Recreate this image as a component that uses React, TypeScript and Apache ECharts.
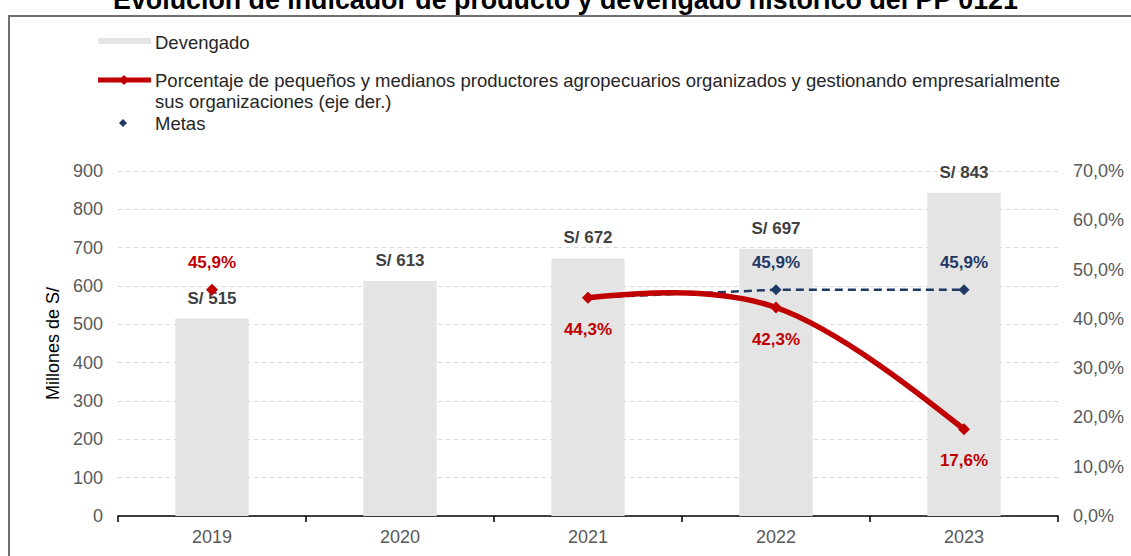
import React, { useEffect, useRef } from 'react';
import * as echarts from 'echarts';

const years: string[] = ['2019', '2020', '2021', '2022', '2023'];
const devengado: number[] = [515, 613, 672, 697, 843];
const porcentaje: (number | null)[] = [45.9, null, 44.3, 42.3, 17.6];
const metas: (number | null)[] = [null, null, 44.3, 45.9, 45.9];
const leftTicks = { min: 0, max: 900, interval: 100 };
const rightTicks = { min: 0, max: 70, interval: 10 };

const FONT = '"Liberation Sans", Arial, sans-serif';
const RED = '#c00000';
const NAVY = '#1f3864';
const BAR = '#e4e4e4';
const TICK = '#595959';
const RED_NAME =
  'Porcentaje de pequeños y medianos productores agropecuarios organizados y gestionando empresarialmente sus organizaciones (eje der.)';

const pct = (v: number) => v.toFixed(1).replace('.', ',') + '%';

export default function App() {
  const ref = useRef<HTMLDivElement>(null);
  useEffect(() => {
    if (!ref.current) return;
    const chart = echarts.init(ref.current, undefined, { renderer: 'svg' });
    const firstIdx = porcentaje.findIndex((v) => v !== null);
    const ok = (j: number) => j >= 0 && j < porcentaje.length && porcentaje[j] !== null;

    // Excel-like smoothed segment between consecutive points (Catmull-Rom bezier)
    const renderSpline = (params: any, api: any) => {
      const b = params.dataIndex;
      const a = b - 1;
      if (!ok(a) || !ok(b)) return null;
      const P = (j: number) => api.coord([j, porcentaje[j]]);
      const pa = P(a);
      const pb = P(b);
      let c1: number[] | null = null;
      let c2: number[] | null = null;
      if (ok(a - 1)) {
        const p0 = P(a - 1);
        c1 = [pa[0] + (pb[0] - p0[0]) / 6, pa[1] + (pb[1] - p0[1]) / 6];
      }
      if (ok(b + 1)) {
        const p3 = P(b + 1);
        c2 = [pb[0] - (p3[0] - pa[0]) / 6, pb[1] - (p3[1] - pa[1]) / 6];
      }
      if (!c1 && !c2) {
        c1 = [pa[0] + (pb[0] - pa[0]) / 3, pa[1] + (pb[1] - pa[1]) / 3];
        c2 = [pb[0] - (pb[0] - pa[0]) / 3, pb[1] - (pb[1] - pa[1]) / 3];
      } else if (!c1 && c2) {
        c1 = [pa[0] + (c2[0] - pa[0]) / 3, pa[1] + (c2[1] - pa[1]) / 3];
      } else if (!c2 && c1) {
        c2 = [pb[0] + (c1[0] - pb[0]) / 3, pb[1] + (c1[1] - pb[1]) / 3];
      }
      return {
        type: 'bezierCurve',
        shape: {
          x1: pa[0],
          y1: pa[1],
          cpx1: c1![0],
          cpy1: c1![1],
          cpx2: c2![0],
          cpy2: c2![1],
          x2: pb[0],
          y2: pb[1],
        },
        style: { stroke: RED, lineWidth: 5.5, fill: 'none', lineCap: 'round' },
      };
    };

    chart.setOption({
      animation: false,
      backgroundColor: '#ffffff',
      title: {
        text: 'Evolución de indicador de producto y devengado histórico del PP 0121',
        left: 'center',
        top: -19,
        textStyle: { fontFamily: FONT, fontSize: 26.8, fontWeight: 'bold', color: '#000' },
      },
      legend: { show: false },
      grid: { left: 118, right: 73, top: 171, bottom: 40 },
      xAxis: {
        type: 'category',
        data: years,
        axisLine: { lineStyle: { color: '#000', width: 1.5 } },
        axisTick: { show: true, length: 6, inside: false, lineStyle: { color: '#000', width: 1.5 } },
        axisLabel: { color: TICK, fontFamily: FONT, fontSize: 18, margin: 12 },
      },
      yAxis: [
        {
          type: 'value',
          ...leftTicks,
          name: 'Millones de S/',
          nameLocation: 'middle',
          nameGap: 53,
          nameRotate: 90,
          nameTextStyle: { fontFamily: FONT, fontSize: 18, color: '#000' },
          axisLine: { show: false },
          axisTick: { show: false },
          axisLabel: { color: TICK, fontFamily: FONT, fontSize: 18, margin: 15 },
          splitLine: { show: true, lineStyle: { color: '#d9d9d9', type: [4, 4], width: 1 } },
        },
        {
          type: 'value',
          ...rightTicks,
          axisLine: { show: false },
          axisTick: { show: false },
          axisLabel: { color: TICK, fontFamily: FONT, fontSize: 18, margin: 15, formatter: (v: number) => pct(v) },
          splitLine: { show: false },
        },
      ],
      series: [
        {
          name: 'Devengado',
          type: 'bar',
          data: devengado,
          barWidth: '39%',
          itemStyle: { color: BAR },
          label: {
            show: true,
            position: 'top',
            distance: 12,
            formatter: (p: any) => 'S/ ' + p.value,
            fontFamily: FONT,
            fontSize: 17,
            fontWeight: 'bold',
            color: '#404040',
          },
          z: 1,
        },
        {
          name: 'Metas',
          type: 'line',
          yAxisIndex: 1,
          data: metas,
          symbol: 'diamond',
          symbolSize: 11,
          lineStyle: { color: NAVY, width: 2.5, type: [8, 5] },
          itemStyle: { color: NAVY },
          label: {
            show: true,
            position: 'top',
            distance: 13,
            formatter: (p: any) => (porcentaje[p.dataIndex] === p.value ? '' : pct(p.value)),
            fontFamily: FONT,
            fontSize: 17,
            fontWeight: 'bold',
            color: NAVY,
          },
          z: 3,
        },
        {
          name: RED_NAME,
          type: 'custom',
          yAxisIndex: 1,
          data: porcentaje.map((v, i) => [i, v]),
          encode: { x: 0, y: 1 },
          renderItem: renderSpline,
          silent: true,
          z: 4,
        },
        {
          name: RED_NAME,
          type: 'line',
          yAxisIndex: 1,
          data: porcentaje.map((v, i) => ({
            value: v,
            label: { position: i === firstIdx ? 'top' : 'bottom', distance: i === firstIdx ? 13 : 17 },
          })),
          connectNulls: false,
          symbol: 'diamond',
          symbolSize: 12,
          lineStyle: { width: 0, opacity: 0 },
          itemStyle: { color: RED },
          label: {
            show: true,
            formatter: (p: any) => pct(p.value),
            fontFamily: FONT,
            fontSize: 17,
            fontWeight: 'bold',
            color: RED,
          },
          z: 5,
        },
      ],
      graphic: [
        {
          type: 'rect',
          shape: { x: 9, y: 16, width: 1300, height: 700 },
          style: { fill: 'none', stroke: '#707070', lineWidth: 2 },
          silent: true,
        },
        { type: 'rect', shape: { x: 98, y: 38, width: 53, height: 6 }, style: { fill: BAR } },
        {
          type: 'text',
          x: 155,
          y: 42,
          style: { text: 'Devengado', font: '18.5px ' + FONT, fill: '#262626', verticalAlign: 'middle' },
        },
        { type: 'line', shape: { x1: 98, y1: 80, x2: 151, y2: 80 }, style: { stroke: RED, lineWidth: 5 } },
        {
          type: 'polygon',
          shape: { points: [[124, 75], [129, 80], [124, 85], [119, 80]] },
          style: { fill: RED },
        },
        {
          type: 'text',
          x: 155,
          y: 80,
          style: {
            text: 'Porcentaje de pequeños y medianos productores agropecuarios organizados y gestionando empresarialmente',
            font: '18.5px ' + FONT,
            fill: '#262626',
            verticalAlign: 'middle',
          },
        },
        {
          type: 'text',
          x: 155,
          y: 101,
          style: { text: 'sus organizaciones (eje der.)', font: '18.5px ' + FONT, fill: '#262626', verticalAlign: 'middle' },
        },
        {
          type: 'polygon',
          shape: { points: [[123, 119], [127, 123], [123, 127], [119, 123]] },
          style: { fill: NAVY },
        },
        {
          type: 'text',
          x: 155,
          y: 123,
          style: { text: 'Metas', font: '18.5px ' + FONT, fill: '#262626', verticalAlign: 'middle' },
        },
      ],
    });
    return () => chart.dispose();
  }, []);
  return <div ref={ref} style={{ position: 'fixed', left: 0, top: 0, width: 1131, height: 556 }} />;
}
